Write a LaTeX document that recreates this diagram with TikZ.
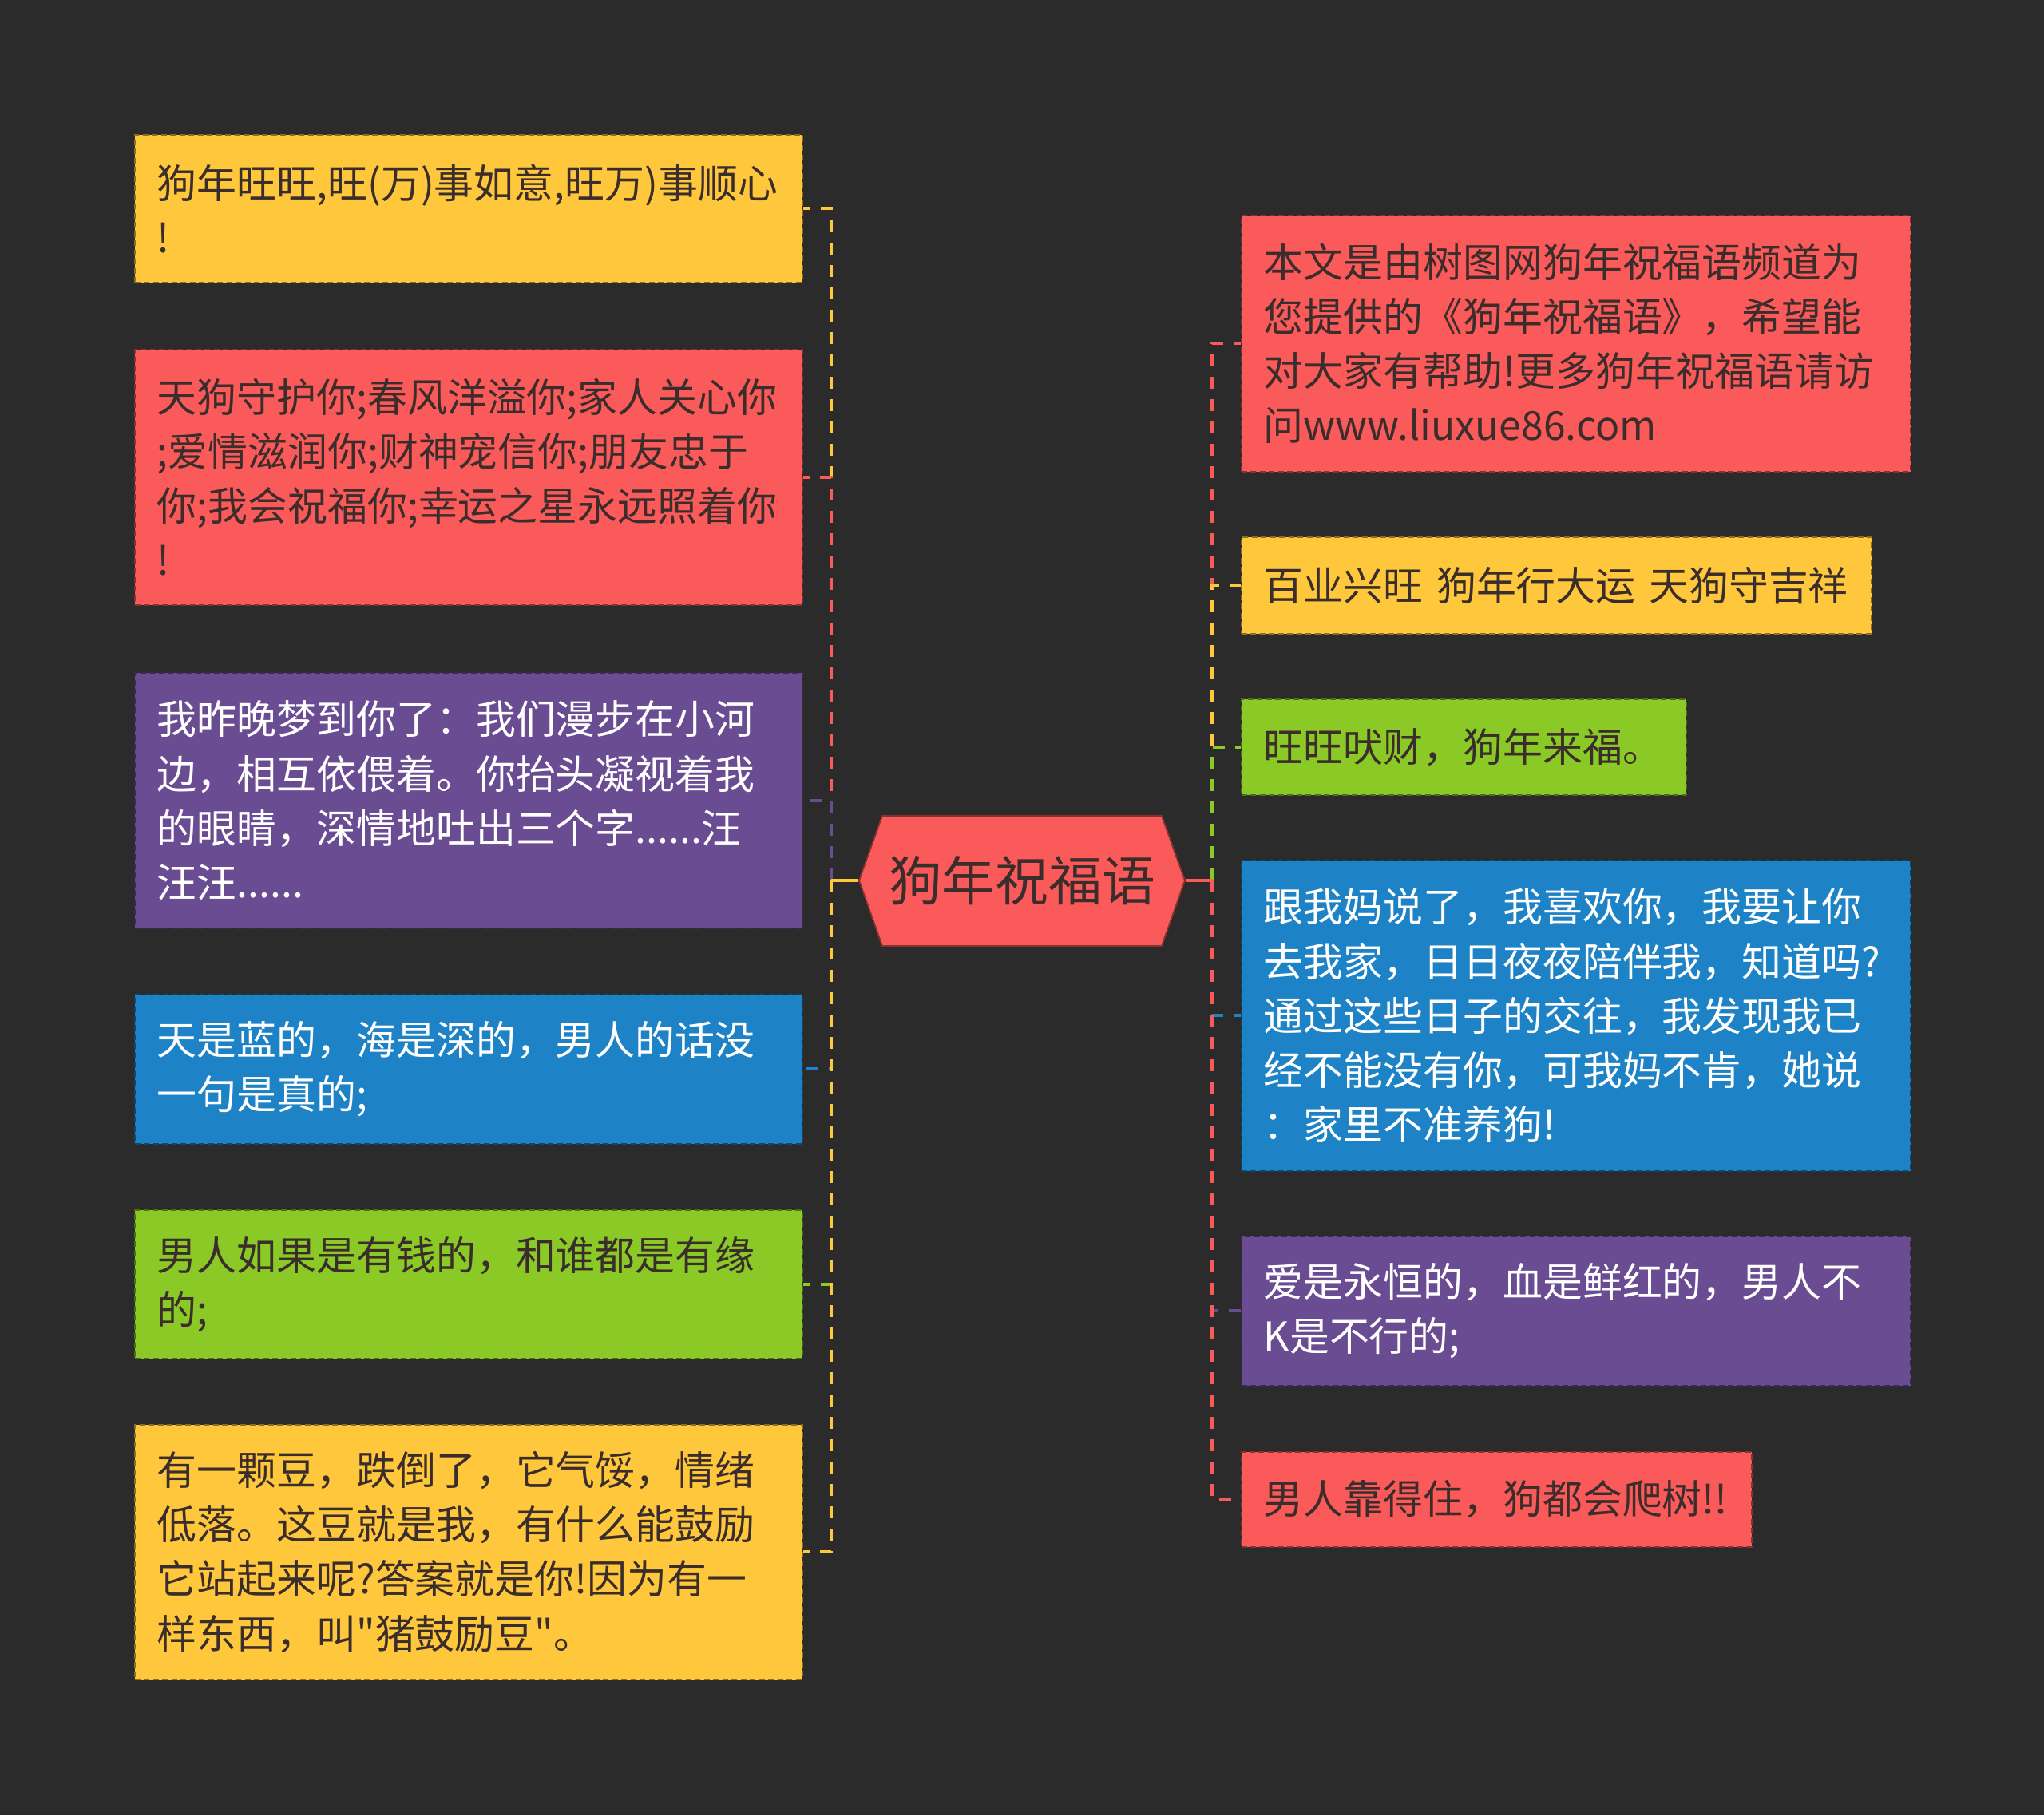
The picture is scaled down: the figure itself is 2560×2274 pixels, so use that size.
\documentclass[tikz,border=0pt]{standalone}
\usepackage{fontspec}
\setmainfont{Noto Sans CJK SC}[Ligatures=TeXOff]
\usepackage{xcolor}
\usepackage{tikz}
\definecolor{fundo}{HTML}{2B2B2B}
\definecolor{vermelho}{HTML}{FA5A5A}
\definecolor{amarelo}{HTML}{FFC83C}
\definecolor{roxo}{HTML}{6A4C93}
\definecolor{azul}{HTML}{1E83C6}
\definecolor{verde}{HTML}{8BC926}
\definecolor{escuro}{HTML}{3A2D2B}
\tikzset{
    bloco/.style={
        rectangle,
        anchor=north west,
        align=left,
        inner xsep=2.8mm,
        inner ysep=0pt,
        line width=0.5pt,
        dash pattern=on 0.7mm off 0.45mm,
        font=\fontsize{14.2pt}{19.4pt}\selectfont
    },
    blocoClaro/.style={bloco, fill=#1, draw=#1!55!black, text=escuro},
    blocoEscuro/.style={bloco, fill=#1, draw=#1!55!black, text=white},
    centro/.style={
        rectangle,
        minimum width=4.08cm,
        minimum height=1.63cm,
        text=escuro,
        font=\fontsize{19pt}{23pt}\selectfont
    },
    hexagono/.style={fill=vermelho, draw=vermelho!55!black, line width=0.5pt},
    ramo/.style={line width=0.4mm, dash pattern=on 1.5mm off 1.3mm},
    haste/.style={line width=0.4mm}
}

\begin{document}
\begin{tikzpicture}[x=0.1mm, y=-0.1mm]
    \useasboundingbox (0,0) rectangle (2560,2274);
    \fill[fundo] (0,0) rectangle (2560,2274);

    % no central
    \fill[hexagono] (1105,1022) -- (1455,1022) -- (1484,1103) -- (1455,1185)
        -- (1105,1185) -- (1076,1103) -- cycle;
    \node[centro] (tema) at (1280,1103) {狗年祝福语};
    \coordinate (troncoE) at (1041,1103);
    \coordinate (troncoD) at (1518,1103);

    % lado esquerdo
    \node[blocoClaro=amarelo, text width=7.8cm, minimum height=1.85cm] (esq1) at (168,168)
        {狗年旺旺,旺(万)事如意,旺万)事顺心\\!};
    \node[blocoClaro=vermelho, text width=7.8cm, minimum height=3.2cm] (esq2) at (168,437)
        {天狗守护你;春风洋溢你;家人关心你\\;爱情滋润你;财神宠信你;朋友忠于\\你;我会祝福你;幸运之星永远照着你\\!};
    \node[blocoEscuro=roxo, text width=7.8cm, minimum height=3.2cm] (esq3) at (168,842)
        {我昨晚梦到你了：我们漫步在小河\\边，相互依偎着。你抬头凝视着我\\的眼睛，深情地吐出三个字......汪\\汪汪......};
    \node[blocoEscuro=azul, text width=7.8cm, minimum height=1.87cm] (esq4) at (168,1245)
        {天是蓝的，海是深的，男人的话没\\一句是真的;};
    \node[blocoClaro=verde, text width=7.8cm, minimum height=1.86cm] (esq5) at (168,1515)
        {男人如果是有钱的，和谁都是有缘\\的;};
    \node[blocoClaro=amarelo, text width=7.8cm, minimum height=3.19cm] (esq6) at (168,1784)
        {有一颗豆，跌倒了，它气馁，情绪\\低落。这豆就是我，有什么能鼓励\\它站起来呢?答案就是你!因为有一\\样东西，叫"猪鼓励豆"。};

    % lado direito
    \node[blocoClaro=vermelho, text width=7.82cm, minimum height=3.21cm] (dir1) at (1554,269)
        {本文是由树图网狗年祝福语频道为\\您提供的《狗年祝福语》，希望能\\对大家有帮助!更多狗年祝福语请访\\问www.liuxue86.com};
    \node[blocoClaro=amarelo, text width=7.33cm, minimum height=1.21cm] (dir2) at (1554,672)
        {百业兴旺 狗年行大运 天狗守吉祥};
    \node[blocoClaro=verde, text width=5.01cm, minimum height=1.2cm] (dir3) at (1554,875)
        {旺旺吠财，狗年来福。};
    \node[blocoEscuro=azul, text width=7.82cm, minimum height=3.89cm] (dir4) at (1554,1077)
        {跟我妈说了，我喜欢你，我要让你\\去我家，日日夜夜陪伴我，知道吗?\\通过这些日子的交往，我发现我已\\经不能没有你，可我妈不肯，她说\\：家里不准养狗!};
    \node[blocoEscuro=roxo, text width=7.82cm, minimum height=1.87cm] (dir5) at (1554,1548)
        {爱是永恒的，血是鲜红的，男人不\\K是不行的;};
    \node[blocoClaro=vermelho, text width=5.83cm, minimum height=1.19cm] (dir6) at (1554,1818)
        {男人靠得住，狗都会爬树!!};

    % ligacoes
    \draw[ramo, amarelo] (troncoE) |- (esq1.east);
    \draw[ramo, vermelho] (troncoE) |- (esq2.east);
    \draw[ramo, roxo] (troncoE) |- (esq3.east);
    \draw[ramo, azul] (troncoE) |- (esq4.east);
    \draw[ramo, verde] (troncoE) |- (esq5.east);
    \draw[ramo, amarelo] (troncoE) |- (esq6.east);
    \draw[haste, amarelo] (tema.west) -- (troncoE);

    \draw[ramo, vermelho] (troncoD) |- (dir1.west);
    \draw[ramo, amarelo] (troncoD) |- (dir2.west);
    \draw[ramo, verde] (troncoD) |- (dir3.west);
    \draw[ramo, azul] (troncoD) |- (dir4.west);
    \draw[ramo, roxo] (troncoD) |- (dir5.west);
    \draw[ramo, vermelho] (troncoD) |- (dir6.west);
    \draw[haste, vermelho] (tema.east) -- (troncoD);
\end{tikzpicture}
\end{document}
